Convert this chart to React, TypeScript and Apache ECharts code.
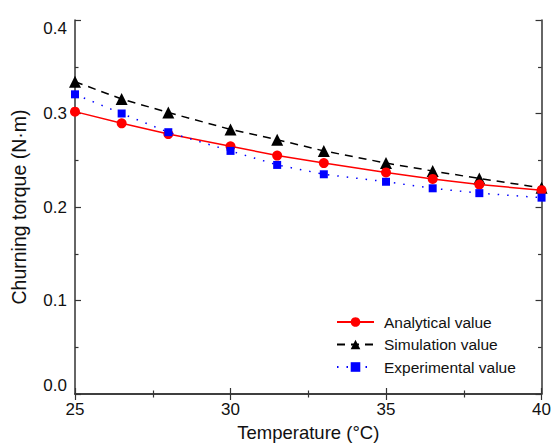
import React, { useEffect, useRef } from "react";
import * as echarts from "echarts";

const temperatures = [25, 26.5, 28, 30, 31.5, 33, 35, 36.5, 38, 40];
const analytical = [0.302, 0.2895, 0.278, 0.265, 0.255, 0.247, 0.237, 0.23, 0.224, 0.218];
const simulation = [0.334, 0.3155, 0.301, 0.283, 0.272, 0.26, 0.247, 0.2385, 0.2305, 0.2205];
const experimental = [0.3205, 0.3, 0.28, 0.26, 0.245, 0.235, 0.227, 0.22, 0.2148, 0.21];

const FONT = "'Liberation Sans', Arial, sans-serif";

export default function App() {
  const ref = useRef<HTMLDivElement>(null);
  useEffect(() => {
    if (!ref.current) return;
    const chart = echarts.init(ref.current, null, { renderer: "svg" });
    const axisLine = { show: true, lineStyle: { color: "#333", width: 1.5 } };
    const tick = { show: true, inside: true, length: 6, lineStyle: { color: "#333", width: 1.2 } };
    const minor = { show: true, splitNumber: 2, length: 3.5, lineStyle: { color: "#333", width: 1.2 } };
    const pair = (arr: number[]) => temperatures.map((t, i) => [t, arr[i]]);
    chart.setOption({
      animation: false,
      backgroundColor: "#fff",
      textStyle: { fontFamily: FONT },
      grid: { left: 75, right: 11, top: 20, bottom: 53 },
      legend: {
        orient: "vertical",
        left: 331,
        top: 309,
        itemWidth: 37,
        itemHeight: 12,
        itemGap: 6.5,
        textStyle: { fontSize: 15.5, color: "#111", fontFamily: FONT, padding: [0, 0, 0, 5] },
        data: ["Analytical value", "Simulation value", "Experimental value"],
      },
      xAxis: [
        {
          type: "value",
          min: 25,
          max: 40,
          interval: 5,
          name: "Temperature (°C)",
          nameLocation: "middle",
          nameGap: 28,
          nameTextStyle: { fontSize: 18.5, color: "#111", fontFamily: FONT },
          axisLine,
          axisTick: tick,
          minorTick: minor,
          axisLabel: { fontSize: 17, color: "#111", margin: 7, fontFamily: FONT },
          splitLine: { show: false },
        },
        {
          type: "value",
          position: "top",
          min: 25,
          max: 40,
          interval: 5,
          axisLine,
          axisTick: tick,
          minorTick: minor,
          axisLabel: { show: false },
          splitLine: { show: false },
        },
      ],
      yAxis: [
        {
          type: "value",
          min: 0,
          max: 0.4,
          interval: 0.1,
          name: "Churning torque (N·m)",
          nameLocation: "middle",
          nameGap: 46,
          nameTextStyle: { fontSize: 19.5, color: "#111", fontFamily: FONT },
          axisLine,
          axisTick: tick,
          minorTick: minor,
          axisLabel: {
            fontSize: 17,
            color: "#111",
            margin: 8,
            fontFamily: FONT,
            verticalAlignMinLabel: "bottom",
            verticalAlignMaxLabel: "top",
            formatter: (v: number) => v.toFixed(1),
          },
          splitLine: { show: false },
        },
        {
          type: "value",
          position: "right",
          min: 0,
          max: 0.4,
          interval: 0.1,
          axisLine,
          axisTick: tick,
          minorTick: minor,
          axisLabel: { show: false },
          splitLine: { show: false },
        },
      ],
      series: [
        {
          name: "Analytical value",
          type: "line",
          data: pair(analytical),
          symbol: "circle",
          symbolSize: 10,
          itemStyle: { color: "#ff0000" },
          lineStyle: { color: "#ff0000", width: 1.5, type: "solid" },
          z: 3,
        },
        {
          name: "Simulation value",
          type: "line",
          data: pair(simulation),
          symbol: "triangle",
          symbolSize: 12,
          itemStyle: { color: "#000" },
          lineStyle: { color: "#000", width: 1.5, type: [8, 6] },
          z: 2,
        },
        {
          name: "Experimental value",
          type: "line",
          data: pair(experimental),
          symbol: "rect",
          symbolSize: 8,
          itemStyle: { color: "#0000ff" },
          lineStyle: { color: "#0000ff", width: 1.5, type: [1.5, 8] },
          z: 4,
        },
      ],
    });
    return () => chart.dispose();
  }, []);
  return <div ref={ref} style={{ width: 554, height: 447, position: "absolute", left: 0, top: 0 }} />;
}
